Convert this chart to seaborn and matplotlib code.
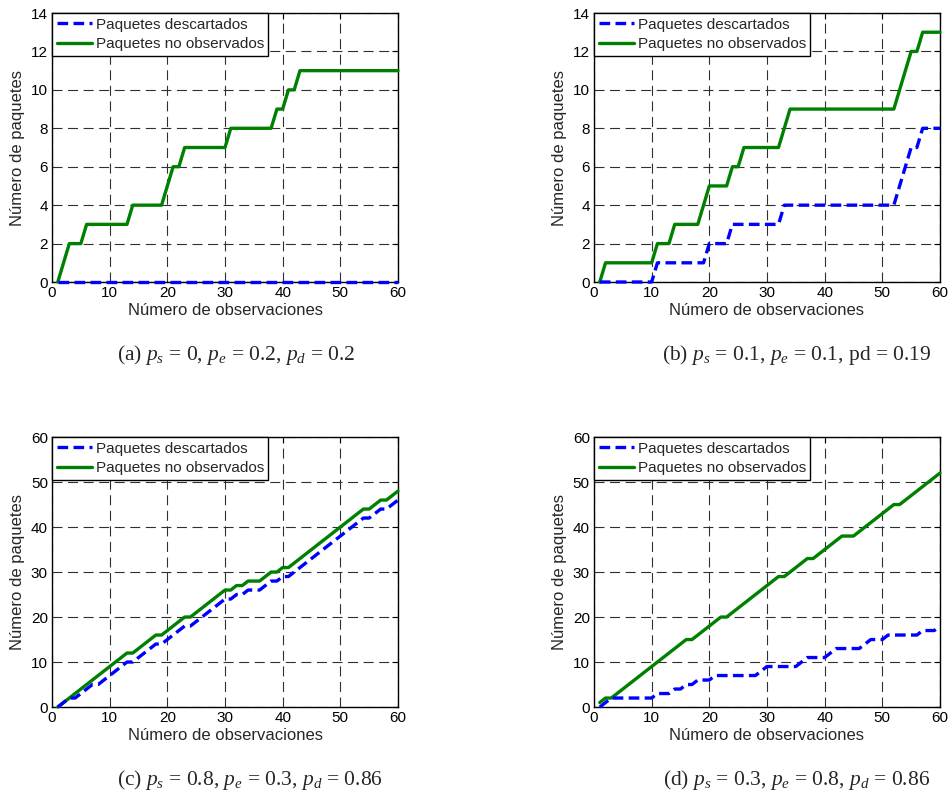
import numpy as np
import pandas as pd
import seaborn as sns
import matplotlib
matplotlib.use("Agg")
import matplotlib.pyplot as plt

# observation index shared by every panel
obs = np.arange(1, 61)

# (a) ps=0, pe=0.2, pd=0.2
a_desc = [0] * 60
a_noobs = [0, 1, 2, 2, 2, 3, 3, 3, 3, 3, 3, 3, 3, 4, 4, 4, 4, 4, 4, 5,
           6, 6, 7, 7, 7, 7, 7, 7, 7, 7, 8, 8, 8, 8, 8, 8, 8, 8, 9, 9,
           10, 10, 11, 11, 11, 11, 11, 11, 11, 11, 11, 11, 11, 11, 11, 11, 11, 11, 11, 11]

# (b) ps=0.1, pe=0.1, pd=0.19
b_desc = [0, 0, 0, 0, 0, 0, 0, 0, 0, 0, 1, 1, 1, 1, 1, 1, 1, 1, 1, 2,
          2, 2, 2, 3, 3, 3, 3, 3, 3, 3, 3, 3, 4, 4, 4, 4, 4, 4, 4, 4,
          4, 4, 4, 4, 4, 4, 4, 4, 4, 4, 4, 4, 5, 6, 7, 7, 8, 8, 8, 8]
b_noobs = [0, 1, 1, 1, 1, 1, 1, 1, 1, 1, 2, 2, 2, 3, 3, 3, 3, 3, 4, 5,
           5, 5, 5, 6, 6, 7, 7, 7, 7, 7, 7, 7, 8, 9, 9, 9, 9, 9, 9, 9,
           9, 9, 9, 9, 9, 9, 9, 9, 9, 9, 9, 9, 10, 11, 12, 12, 13, 13, 13, 13]

# (c) ps=0.8, pe=0.3, pd=0.86
c_desc = [0, 1, 2, 2, 3, 4, 5, 5, 6, 7, 8, 9, 10, 10, 11, 12, 13, 14, 14, 15,
          16, 17, 18, 18, 19, 20, 21, 22, 23, 24, 24, 25, 25, 26, 26, 26, 27, 28, 28, 29,
          29, 30, 31, 32, 33, 34, 35, 36, 37, 38, 39, 40, 41, 42, 42, 43, 44, 44, 45, 46]
c_noobs = [0, 1, 2, 3, 4, 5, 6, 7, 8, 9, 10, 11, 12, 12, 13, 14, 15, 16, 16, 17,
           18, 19, 20, 20, 21, 22, 23, 24, 25, 26, 26, 27, 27, 28, 28, 28, 29, 30, 30, 31,
           31, 32, 33, 34, 35, 36, 37, 38, 39, 40, 41, 42, 43, 44, 44, 45, 46, 46, 47, 48]

# (d) ps=0.3, pe=0.8, pd=0.86
d_desc = [0, 1, 2, 2, 2, 2, 2, 2, 2, 2, 3, 3, 3, 4, 4, 5, 5, 6, 6, 6,
          7, 7, 7, 7, 7, 7, 7, 7, 8, 9, 9, 9, 9, 9, 9, 10, 11, 11, 11, 11,
          12, 13, 13, 13, 13, 13, 14, 15, 15, 15, 16, 16, 16, 16, 16, 16, 17, 17, 17, 18]
d_noobs = [1, 2, 2, 3, 4, 5, 6, 7, 8, 9, 10, 11, 12, 13, 14, 15, 15, 16, 17, 18,
           19, 20, 20, 21, 22, 23, 24, 25, 26, 27, 28, 29, 29, 30, 31, 32, 33, 33, 34, 35,
           36, 37, 38, 38, 38, 39, 40, 41, 42, 43, 44, 45, 45, 46, 47, 48, 49, 50, 51, 52]

captions = [
    r"(a) $p_s$ = 0, $p_e$ = 0.2, $p_d$ = 0.2",
    r"(b) $p_s$ = 0.1, $p_e$ = 0.1, pd = 0.19",
    r"(c) $p_s$ = 0.8, $p_e$ = 0.3, $p_d$ = 0.86",
    r"(d) $p_s$ = 0.3, $p_e$ = 0.8, $p_d$ = 0.86",
]
panels = [(a_desc, a_noobs), (b_desc, b_noobs), (c_desc, c_noobs), (d_desc, d_noobs)]
ymax = [14, 14, 60, 60]
ystep = [2, 2, 10, 10]

sns.set_style("white")
plt.rcParams["font.family"] = ["Liberation Sans", "DejaVu Sans"]
plt.rcParams["mathtext.fontset"] = "custom"
plt.rcParams["mathtext.rm"] = "Liberation Serif"
plt.rcParams["mathtext.it"] = "Liberation Serif:italic"

fig = plt.figure(figsize=(9.51, 7.98), dpi=100)

# axes boxes in figure fraction (left, bottom, width, height)
boxes = [
    (0.0547, 0.6466, 0.3638, 0.3371),
    (0.6246, 0.6466, 0.3638, 0.3371),
    (0.0547, 0.1140, 0.3638, 0.3383),
    (0.6246, 0.1140, 0.3638, 0.3383),
]
cap_pos = [(0.123, 1 - 355 / 798), (0.696, 1 - 355 / 798),
           (0.123, 1 - 780 / 798), (0.697, 1 - 780 / 798)]

for i, (desc, noobs) in enumerate(panels):
    ax = fig.add_axes(boxes[i])
    sns.lineplot(x=obs, y=desc, ax=ax, color="#0000FF", lw=2.4,
                 label="Paquetes descartados", clip_on=False, zorder=5)
    sns.lineplot(x=obs, y=noobs, ax=ax, color="#008000", lw=2.4,
                 label="Paquetes no observados", clip_on=False, zorder=4)
    ax.lines[0].set_dashes((3.2, 1.6))

    ax.set_xlim(0, 60)
    ax.set_ylim(0, ymax[i])
    ax.set_xticks(np.arange(0, 61, 10))
    ax.set_yticks(np.arange(0, ymax[i] + 1, ystep[i]))
    ax.grid(True, color="#303030", lw=0.8, linestyle=(0, (9, 5)))
    ax.tick_params(direction="in", length=4, width=0.8, labelsize=11, pad=3,
                   top=True, right=True, colors="black")
    for s in ax.spines.values():
        s.set_color("black")
        s.set_linewidth(1.0)
        s.set_visible(True)

    ax.set_xlabel("Número de observaciones", fontsize=12, labelpad=2)
    ax.set_ylabel("Número de paquetes", fontsize=12, labelpad=4)

    leg = ax.legend(loc="upper left", bbox_to_anchor=(0, 1), borderaxespad=0,
                    fontsize=11, frameon=True, fancybox=False, framealpha=1,
                    edgecolor="black", handlelength=2.3, handletextpad=0.25,
                    labelspacing=0.35, borderpad=0.3)
    leg.get_frame().set_linewidth(1.0)
    leg.set_zorder(10)

    fig.text(cap_pos[i][0], cap_pos[i][1], captions[i], fontsize=15.5,
             family="Liberation Serif", ha="left", va="center")

fig.savefig("out.png", dpi=100)
